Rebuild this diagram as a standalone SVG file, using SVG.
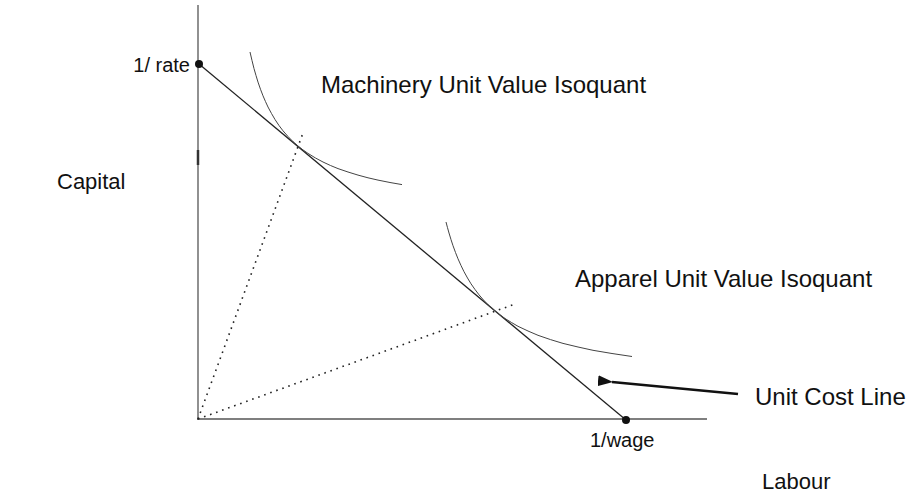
<svg xmlns="http://www.w3.org/2000/svg" width="916" height="495" viewBox="0 0 916 495">
<defs>
<style>
.t{font-family:"Liberation Sans",Arial,sans-serif;fill:#111;font-size:24px}
.m{font-size:22px}
.s{font-size:20px}
.ax{stroke:#555;stroke-width:1.3;fill:none}
.ln{stroke:#222;stroke-width:1.3;fill:none}
.cv{stroke:#444;stroke-width:1;fill:none;stroke-linejoin:round}
.dt{stroke:#222;stroke-width:1.6;fill:none;stroke-dasharray:1.6 4.8}
</style>
<marker id="ah" viewBox="0 0 15 11" refX="1" refY="5.5" markerWidth="15" markerHeight="11" markerUnits="userSpaceOnUse" orient="auto">
<path d="M15,0 L0,5.5 L15,11 Z" fill="#111"/>
</marker>
</defs>
<rect width="916" height="495" fill="#fff"/>
<g id="axes">
<line class="ax" x1="198" y1="5" x2="198" y2="420"/>
<line class="ax" x1="197" y1="419" x2="707" y2="419"/>
<line x1="198" y1="150" x2="198" y2="165" stroke="#333" stroke-width="2.5"/>
</g>
<g id="connectors">
<line class="ln" x1="199" y1="64" x2="626" y2="420"/>
<line class="dt" x1="198" y1="419" x2="303" y2="133"/>
<line class="dt" x1="198" y1="419" x2="515" y2="304"/>
<line x1="738" y1="394" x2="612" y2="382" stroke="#111" stroke-width="2.6" marker-end="url(#ah)"/>
</g>
<g id="machinery-isoquant">
<path class="cv" d="M250,52 L252,60.5 L254,68.6 L256,75.5 L258,82.1 L260.5,89.3 L263,95.8 L265.5,101.6 L268,107 L271.5,113.5 L275,119.5 L279,125.5 L283,130.8 L288,136.5 L293,141.6 L298,146 L303,149.9 L308,153.4 L315.5,158 L323,162 L330.5,165.5 L338,168.6 L348,172 L358,175.1 L368,177.8 L378,180.1 L390,182.5 L402,184.6"/>
<text class="t" x="321" y="93">Machinery Unit Value Isoquant</text>
</g>
<g id="apparel-isoquant">
<path class="cv" d="M446,222 L447.5,227.7 L449,233 L451,239.6 L453,245.7 L455.5,252.5 L458,258.8 L461,265.5 L464,271.7 L467.5,278 L471,283.8 L475,289.5 L479,294.8 L483.5,300 L488,304.7 L491.5,308 L495,311 L500,315 L505,318.5 L511.5,322.5 L518,326.3 L528,331 L538,335.3 L550.5,339.6 L563,343.4 L578,347 L593,350.3 L612,353.5 L632,356.5"/>
<text class="t" x="575" y="287">Apparel Unit Value Isoquant</text>
</g>
<g id="rate-point">
<circle cx="199" cy="64" r="4" fill="#111"/>
<text class="t s" x="190" y="72" text-anchor="end">1/ rate</text>
</g>
<g id="wage-point">
<circle cx="626" cy="420" r="4" fill="#111"/>
<text class="t s" x="590" y="447">1/wage</text>
</g>
<g id="capital-label">
<text class="t m" x="57" y="189">Capital</text>
</g>
<g id="labour-label">
<text class="t m" x="762" y="489">Labour</text>
</g>
<g id="unit-cost-label">
<text class="t" x="755" y="405">Unit Cost Line</text>
</g>
</svg>
